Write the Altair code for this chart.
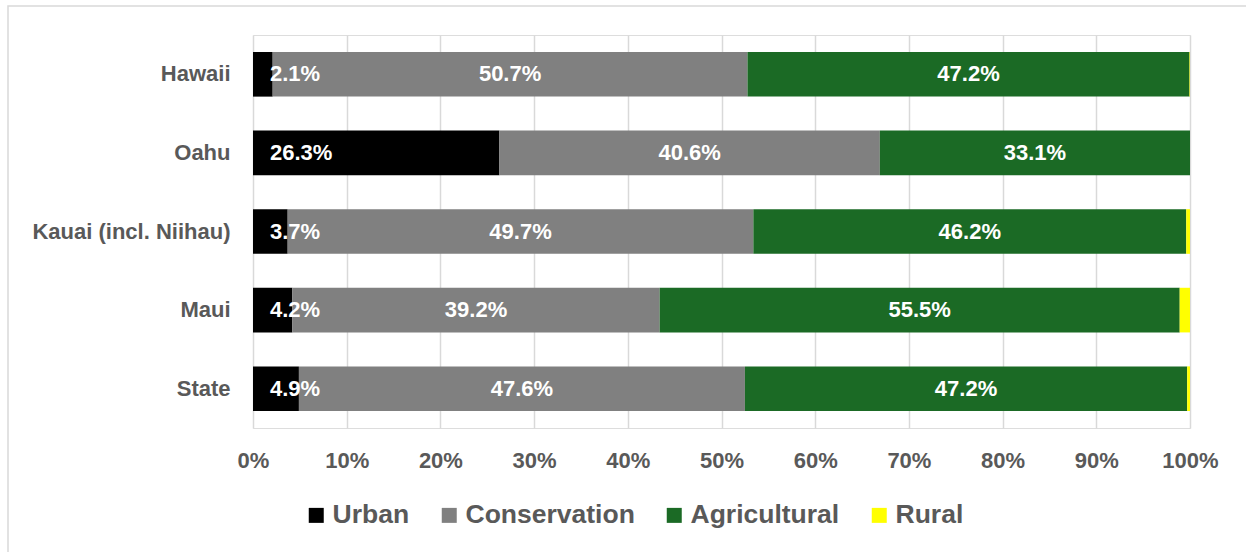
import altair as alt
import pandas as pd

regions = ["Hawaii", "Oahu", "Kauai (incl. Niihau)", "Maui", "State"]
categories = ["Urban", "Conservation", "Agricultural", "Rural"]
urban = [2.1, 26.3, 3.7, 4.2, 4.9]
conservation = [50.7, 40.6, 49.7, 39.2, 47.6]
agricultural = [47.2, 33.1, 46.2, 55.5, 47.2]
rural = [0.05, 0.0, 0.4, 1.1, 0.3]
colors = ["#000000", "#808080", "#1b6a25", "#ffff00"]
tick_values = [i / 10 for i in range(11)]

series = {"Urban": urban, "Conservation": conservation,
          "Agricultural": agricultural, "Rural": rural}
rows = []
for ci, cat in enumerate(categories):
    for ri, reg in enumerate(regions):
        rows.append({"region": reg, "category": cat, "value": series[cat][ri], "order": ci})
df = pd.DataFrame(rows)

FONT = "Liberation Sans"
xscale = alt.Scale(domain=[0, 1], nice=False, zero=True)
yscale = alt.Scale(domain=regions, paddingInner=0.432, paddingOuter=0.216)

base = alt.Chart(df).transform_stack(
    stack="value", groupby=["region"], as_=["x0", "x1"],
    offset="normalize", sort=[alt.SortField("order", order="ascending")]
).transform_calculate(
    mid="(datum.x0 + datum.x1) / 2",
    label="format(datum.value, '.1f') + '%'"
)

bars = base.mark_bar().encode(
    x=alt.X("x0:Q", scale=xscale, title=None,
            axis=alt.Axis(values=tick_values, format=".0%", grid=True,
                          gridColor="#d9d9d9", gridWidth=1.5, domain=False,
                          ticks=False, labelFont=FONT, labelFontSize=22,
                          labelFontWeight="bold", labelColor="#595959",
                          labelPadding=22, labelFlush=False, labelOverlap=False)),
    x2="x1:Q",
    y=alt.Y("region:N", scale=yscale, sort=regions, title=None,
            axis=alt.Axis(domain=False, ticks=False, grid=False, labelFont=FONT,
                          labelFontSize=22, labelFontWeight="bold",
                          labelColor="#595959", labelPadding=23, labelLimit=400)),
    color=alt.Color("category:N", scale=alt.Scale(domain=categories, range=colors),
                    sort=categories,
                    legend=alt.Legend(title=None, orient="none", direction="horizontal",
                                      legendX=50, legendY=467, symbolType="square",
                                      symbolSize=225, symbolStrokeWidth=0,
                                      labelFont=FONT, labelFontSize=26.5,
                                      labelFontWeight="bold", labelColor="#595959",
                                      labelOffset=3, columnPadding=26, padding=0,
                                      labelLimit=400)),
    order=alt.Order("order:Q"),
)

urban_labels = base.transform_filter(alt.datum.category == "Urban").mark_text(
    align="left", baseline="middle", dx=17, color="white", font=FONT,
    fontSize=22, fontWeight="bold"
).encode(
    x=alt.X("x0:Q", scale=xscale),
    y=alt.Y("region:N", scale=yscale, sort=regions),
    text="label:N",
)

mid_labels = base.transform_filter(
    (alt.datum.category == "Conservation") | (alt.datum.category == "Agricultural")
).mark_text(
    align="center", baseline="middle", color="white", font=FONT,
    fontSize=22, fontWeight="bold"
).encode(
    x=alt.X("mid:Q", scale=xscale),
    y=alt.Y("region:N", scale=yscale, sort=regions),
    text="label:N",
)

frame = alt.Chart(pd.DataFrame({"a": [0]})).mark_rect(
    fill="transparent", stroke="#d9d9d9", strokeWidth=1.5
).encode(x=alt.value(-245), x2=alt.value(1007), y=alt.value(-29), y2=alt.value(535))

chart = alt.layer(frame, bars, urban_labels, mid_labels).properties(
    width=937, height=393,
    autosize=alt.AutoSizeParams(type="none"),
    padding={"left": 253, "top": 35, "right": 56, "bottom": 124},
).configure_view(stroke=None).configure(background="white")

chart.save("out.html", embed_options={"renderer": "svg", "actions": False})
